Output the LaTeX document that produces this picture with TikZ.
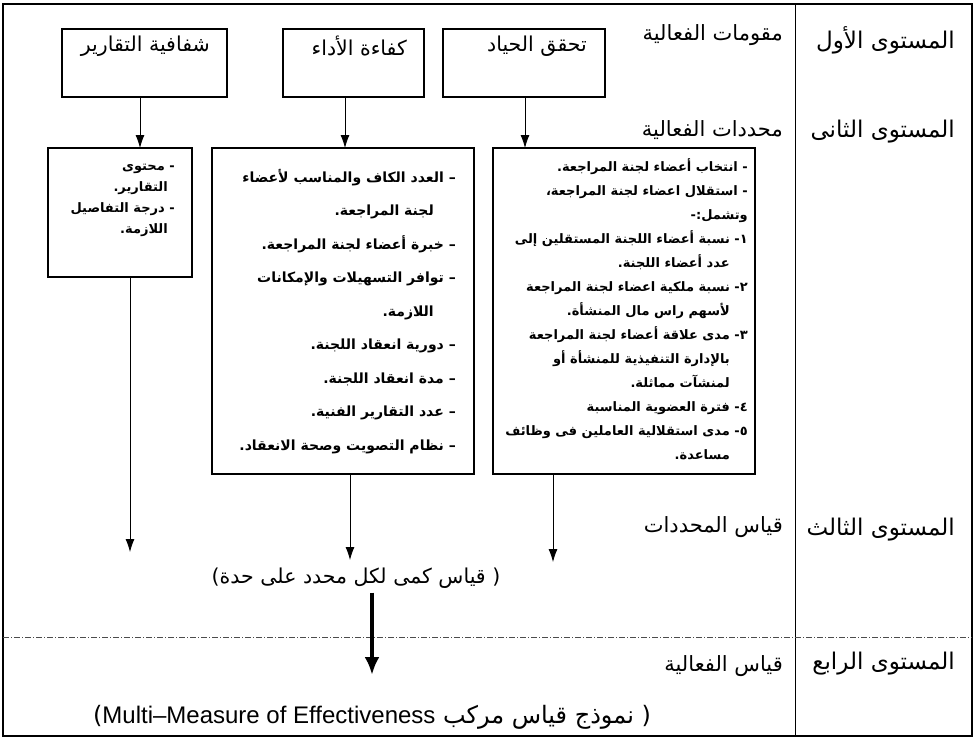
\documentclass[tikz,border=0pt]{standalone}
\usepackage{fontspec}
\usetikzlibrary{arrows.meta}
\setmainfont{Liberation Sans}
\newfontfamily\arabicfont[Script=Arabic]{DejaVu Sans}
\newfontfamily\latinfont{Liberation Sans}
\TeXXeTstate=1
\newcommand{\rtlline}[1]{\beginR#1\endR}
\newcommand{\rtlind}[2][18pt]{\beginR\hspace*{#1}#2\endR}
\tikzset{
  box/.style={draw, line width=1.2pt, inner sep=0pt},
  lvl/.style={font=\arabicfont\fontsize{23}{26}\selectfont, inner sep=0pt, anchor=east},
  stage/.style={font=\arabicfont\fontsize{21}{24}\selectfont, inner sep=0pt, anchor=east},
  toptxt/.style={font=\arabicfont\fontsize{20.5}{24}\selectfont, inner sep=0pt, anchor=east},
  items/.style={font=\arabicfont\bfseries\fontsize{13}{24}\selectfont, align=right, inner sep=0pt, anchor=north east},
  midtxt/.style={font=\arabicfont\fontsize{20.5}{24}\selectfont, inner sep=0pt},
  conn/.style={-{Latex[length=13pt,width=9pt]}, line width=0.8pt},
  bigconn/.style={-{Latex[length=18pt,width=15pt]}, line width=4pt},
}
\begin{document}
\begin{tikzpicture}[x=1pt,y=-1pt]
  \useasboundingbox (0,0) rectangle (974,740);
  % frame and levels
  \draw[line width=1.5pt] (3,4) rectangle (972,736);
  \draw[line width=1pt] (795,4) -- (795,736);
  \draw[line width=0.6pt, black!70, dash pattern=on 6pt off 2pt on 1pt off 2pt] (3,637) -- (972,637);
  \node[lvl] (lvl1) at (955,40) {\rtlline{المستوى الأول}};
  \node[lvl] (lvl2) at (955,132) {\rtlline{المستوى الثانى}};
  \node[lvl] (lvl3) at (955,530) {\rtlline{المستوى الثالث}};
  \node[lvl] (lvl4) at (955,664) {\rtlline{المستوى الرابع}};
  \node[stage] (comp) at (783,35) {\rtlline{مقومات الفعالية}};
  \node[stage] (dets) at (783,130) {\rtlline{محددات الفعالية}};
  \node[stage] (detmeas) at (783,527) {\rtlline{قياس المحددات}};
  \node[stage] (effmeas) at (783,666) {\rtlline{قياس الفعالية}};
  % first row
  \node[box, minimum width=165, minimum height=68] (trans) at (144.5,63) {};
  \node[box, minimum width=141, minimum height=68] (perf) at (353.5,63) {};
  \node[box, minimum width=162, minimum height=68] (neut) at (524,63) {};
  \node[toptxt] (transtxt) at (210,46) {\rtlline{شفافية التقارير}};
  \node[toptxt] (perftxt) at (407,46) {\rtlline{كفاءة الأداء}};
  \node[toptxt] (neuttxt) at (587,46) {\rtlline{تحقق الحياد}};
  % second row
  \node[box, minimum width=144, minimum height=129] (detA) at (120,212.5) {};
  \node[box, minimum width=262, minimum height=326] (detB) at (343,311) {};
  \node[box, minimum width=262, minimum height=326] (detC) at (624,311) {};
  \node[items, font=\arabicfont\bfseries\fontsize{13}{21}\selectfont] (detAtxt) at (175,164) {
    \rtlline{- محتوى}\\
    \rtlind[7pt]{التقارير.}\\
    \rtlline{- درجة التفاصيل}\\
    \rtlind[7pt]{اللازمة.}};
  \node[items, font=\arabicfont\bfseries\fontsize{14}{33.5}\selectfont] (detBtxt) at (456,169) {
    \rtlline{– العدد الكاف والمناسب لأعضاء}\\
    \rtlind[22pt]{لجنة المراجعة.}\\
    \rtlline{– خبرة أعضاء لجنة المراجعة.}\\
    \rtlline{– توافر التسهيلات والإمكانات}\\
    \rtlind[22pt]{اللازمة.}\\
    \rtlline{– دورية انعقاد اللجنة.}\\
    \rtlline{– مدة انعقاد اللجنة.}\\
    \rtlline{– عدد التقارير الفنية.}\\
    \rtlline{– نظام التصويت وصحة الانعقاد.}};
  \node[items] (detCtxt) at (748,158) {
    \rtlline{- انتخاب أعضاء  لجنة المراجعة.}\\
    \rtlline{-  استقلال اعضاء لجنة المراجعة،}\\
    \rtlline{وتشمل:-}\\
    \rtlline{١- نسبة أعضاء اللجنة المستقلين إلى}\\
    \rtlind{عدد أعضاء اللجنة.}\\
    \rtlline{٢- نسبة ملكية اعضاء لجنة المراجعة}\\
    \rtlind{لأسهم راس مال المنشأة.}\\
    \rtlline{٣- مدى علاقة أعضاء لجنة المراجعة}\\
    \rtlind{بالإدارة التنفيذية للمنشأة أو}\\
    \rtlind{لمنشآت مماثلة.}\\
    \rtlline{٤- فترة العضوية المناسبة}\\
    \rtlline{٥- مدى استقلالية العاملين فى وظائف}\\
    \rtlind{مساعدة.}};
  % measures
  \node[midtxt] (perdet) at (356,578) {\rtlline{( قياس كمى لكل محدد على حدة)}};
  \node[midtxt, font=\arabicfont\fontsize{24}{28}\selectfont] (multi) at (372,717)
    {\rtlline{( نموذج قياس مركب \beginL{\latinfont Multi–Measure of Effectiveness}\endL)}};
  \coordinate (tipA) at (140,148);
  \coordinate (tipB) at (345,148);
  \coordinate (tipC) at (525,148);
  \coordinate (endA) at (130,552);
  \coordinate (endB) at (350,560);
  \coordinate (endC) at (553,562);
  \coordinate (effend) at (372,675);
  \begin{scope}[conn]
    \draw (trans.south -| tipA) to (tipA);
    \draw (perf.south -| tipB) to (tipB);
    \draw (neut.south -| tipC) to (tipC);
    \draw (detA.south -| endA) to (endA);
    \draw (detB.south -| endB) to (endB);
    \draw (detC.south -| endC) to (endC);
  \end{scope}
  \draw[bigconn, shorten <=4pt] (perdet.south -| effend) to (effend);
\end{tikzpicture}
\end{document}
